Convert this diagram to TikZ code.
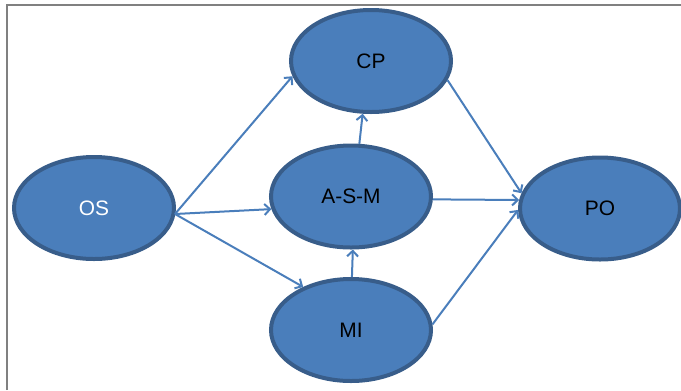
\documentclass[tikz,border=0pt]{standalone}
\usepackage{fontspec}
\setmainfont{Liberation Sans}
\usetikzlibrary{shapes.geometric,arrows.meta}
\definecolor{fillblue}{HTML}{4A7EBB}
\definecolor{edgeblue}{HTML}{385D8A}
\definecolor{lineblue}{HTML}{4A7EBB}
\definecolor{framegray}{HTML}{808080}
\tikzset{
  oval/.style={ellipse, draw=edgeblue, fill=fillblue, line width=4bp,
    minimum width=160bp, minimum height=102bp, inner sep=0pt,
    font=\fontsize{21}{25}\selectfont},
  conn/.style={draw=lineblue, line width=2bp, -{Straight Barb[length=5.5bp,width=11bp]}}
}
\begin{document}
\begin{tikzpicture}[x=1bp,y=-1bp]
\useasboundingbox (0,0) rectangle (681,390);
\draw[framegray, line width=1.5bp] (7,390) -- (7,5) -- (681,5);
\node[oval] (CP) at (371,61) {CP};
\node[oval, text=white] (OS) at (94,208) {OS};
\node[oval] (ASM) at (351,196.5) {A-S-M};
\node[oval] (MI) at (351,330) {MI};
\node[oval] (PO) at (600,208.5) {PO};
\coordinate (osout) at (175,214);
\draw[conn] (osout) -- (CP.191);
\draw[conn] (osout) -- (ASM.189);
\draw[conn] (osout) -- (MI.138);
\draw[conn] (MI.89) -- (ASM.-88);
\draw[conn] (ASM.81) -- (CP.-99);
\draw[conn] (CP.-14) -- (PO.169);
\draw[conn] (ASM.-2.5) -- (PO.174);
\draw[conn] (MI.4) -- (PO.181);
\end{tikzpicture}
\end{document}
